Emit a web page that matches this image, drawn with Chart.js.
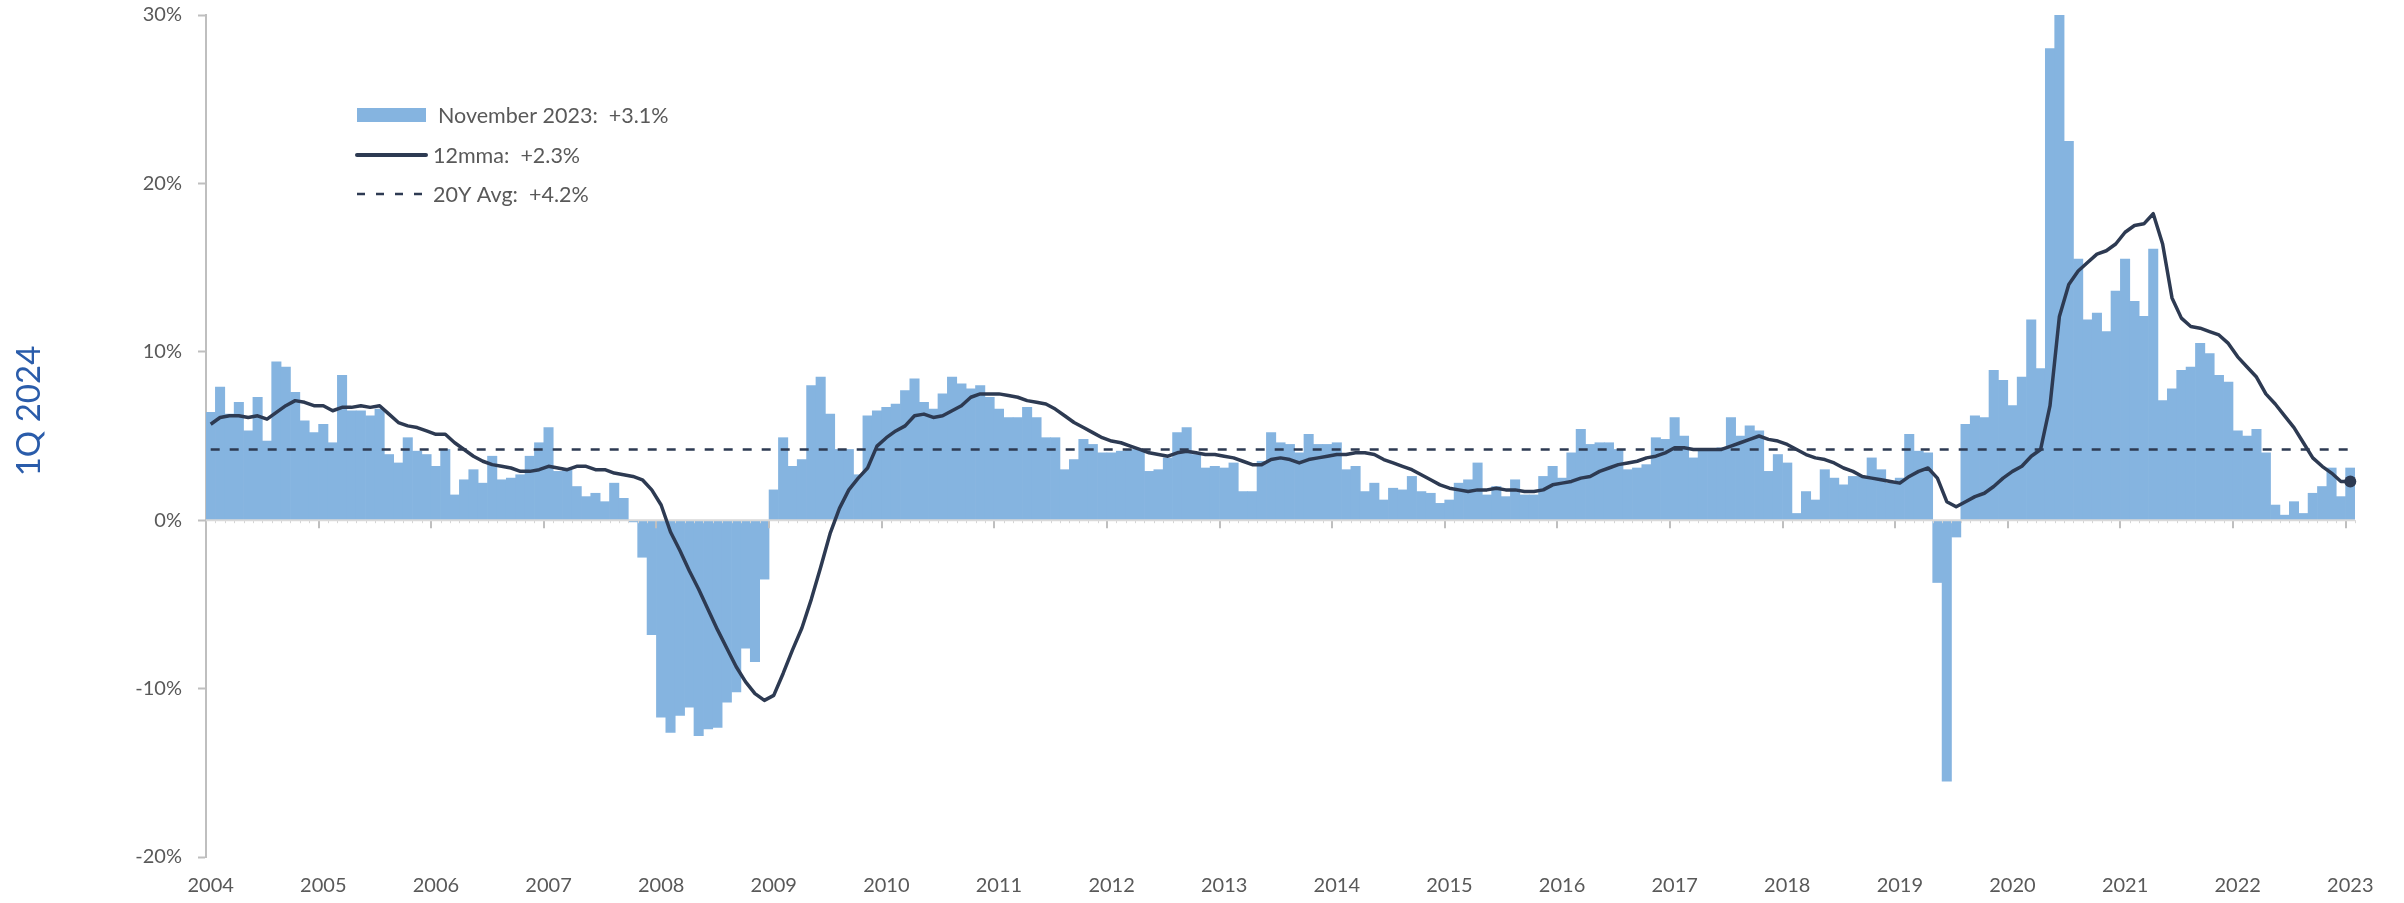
<!DOCTYPE html>
<html>
<head>
<meta charset="utf-8">
<script src="https://cdn.jsdelivr.net/npm/chart.js@4.4.1/dist/chart.umd.min.js"></script>
<style>
  html, body { margin: 0; padding: 0; background: #fff; }
  #wrap { width: 2404px; height: 903px; position: relative; }
</style>
</head>
<body>
<div id="wrap"><canvas id="myChart" width="2404" height="903"></canvas></div>
<script>
// year labels on the axis, one every 12 months
const yearLabels = ['2004','2005','2006','2007','2008','2009','2010','2011','2012','2013',
  '2014','2015','2016','2017','2018','2019','2020','2021','2022','2023'];

// monthly y/y change, %
const monthly = [
  6.4, 7.9, 6.3, 7.0, 5.3, 7.3, 4.7, 9.4, 9.1, 7.6, 5.9, 5.2,
  5.7, 4.6, 8.6, 6.5, 6.5, 6.2, 6.6, 3.9, 3.4, 4.9, 4.1, 3.9,
  3.2, 4.2, 1.5, 2.4, 3.0, 2.2, 3.8, 2.4, 2.5, 2.7, 3.8, 4.6,
  5.5, 2.9, 3.0, 2.0, 1.4, 1.6, 1.1, 2.2, 1.3, -0.1, -2.2, -6.8,
  -11.7, -12.6, -11.6, -11.1, -12.8, -12.4, -12.3, -10.8, -10.2, -7.6, -8.4, -3.5,
  1.8, 4.9, 3.2, 3.6, 8.0, 8.5, 6.3, 4.2, 4.2, 2.7, 6.2, 6.5,
  6.7, 6.9, 7.7, 8.4, 7.0, 6.6, 7.5, 8.5, 8.1, 7.8, 8.0, 7.3,
  6.6, 6.1, 6.1, 6.7, 6.1, 4.9, 4.9, 3.0, 3.6, 4.8, 4.5, 4.0,
  4.0, 4.1, 4.2, 4.2, 2.9, 3.0, 3.7, 5.2, 5.5, 3.9, 3.1, 3.2,
  3.1, 3.4, 1.7, 1.7, 3.5, 5.2, 4.6, 4.5, 4.0, 5.1, 4.5, 4.5,
  4.6, 3.0, 3.2, 1.7, 2.2, 1.2, 1.9, 1.8, 2.6, 1.7, 1.6, 1.0,
  1.2, 2.2, 2.4, 3.4, 1.5, 2.0, 1.4, 2.4, 1.5, 1.5, 2.6, 3.2,
  2.5, 4.0, 5.4, 4.5, 4.6, 4.6, 4.2, 3.0, 3.1, 3.3, 4.9, 4.8,
  6.1, 5.0, 3.7, 4.2, 4.2, 4.3, 6.1, 5.0, 5.6, 5.3, 2.9, 3.9,
  3.4, 0.4, 1.7, 1.2, 3.0, 2.5, 2.1, 2.6, 2.6, 3.7, 3.0, 2.2,
  2.5, 5.1, 4.1, 4.0, -3.7, -15.5, -1.0, 5.7, 6.2, 6.1, 8.9, 8.3,
  6.8, 8.5, 11.9, 9.0, 28.0, 30.0, 22.5, 15.5, 11.9, 12.3, 11.2, 13.6,
  15.5, 13.0, 12.1, 16.1, 7.1, 7.8, 8.9, 9.1, 10.5, 9.9, 8.6, 8.2,
  5.3, 5.0, 5.4, 4.0, 0.9, 0.3, 1.1, 0.4, 1.6, 2.0, 3.1, 1.4,
  3.1
];

// 12-month moving average, %
const mma12 = [
  5.7, 6.1, 6.2, 6.2, 6.1, 6.2, 6.0, 6.4, 6.8, 7.1, 7.0, 6.8,
  6.8, 6.5, 6.7, 6.7, 6.8, 6.7, 6.8, 6.3, 5.8, 5.6, 5.5, 5.3,
  5.1, 5.1, 4.6, 4.2, 3.8, 3.5, 3.3, 3.2, 3.1, 2.9, 2.9, 3.0,
  3.2, 3.1, 3.0, 3.2, 3.2, 3.0, 3.0, 2.8, 2.7, 2.6, 2.4, 1.8,
  0.9, -0.7, -1.8, -3.0, -4.1, -5.3, -6.5, -7.6, -8.7, -9.6, -10.3, -10.7,
  -10.4, -9.1, -7.7, -6.4, -4.7, -2.8, -0.8, 0.7, 1.8, 2.5, 3.1, 4.4,
  4.9, 5.3, 5.6, 6.2, 6.3, 6.1, 6.2, 6.5, 6.8, 7.3, 7.5, 7.5,
  7.5, 7.4, 7.3, 7.1, 7.0, 6.9, 6.6, 6.2, 5.8, 5.5, 5.2, 4.9,
  4.7, 4.6, 4.4, 4.2, 4.0, 3.9, 3.8, 4.0, 4.1, 4.0, 3.9, 3.9,
  3.8, 3.7, 3.5, 3.3, 3.3, 3.6, 3.7, 3.6, 3.4, 3.6, 3.7, 3.8,
  3.9, 3.9, 4.0, 4.0, 3.9, 3.6, 3.4, 3.2, 3.0, 2.7, 2.4, 2.1,
  1.9, 1.8, 1.7, 1.8, 1.8, 1.9, 1.8, 1.8, 1.7, 1.7, 1.8, 2.1,
  2.2, 2.3, 2.5, 2.6, 2.9, 3.1, 3.3, 3.4, 3.5, 3.7, 3.8, 4.0,
  4.3, 4.3, 4.2, 4.2, 4.2, 4.2, 4.4, 4.6, 4.8, 5.0, 4.8, 4.7,
  4.5, 4.2, 3.9, 3.7, 3.6, 3.4, 3.1, 2.9, 2.6, 2.5, 2.4, 2.3,
  2.2, 2.6, 2.9, 3.1, 2.5, 1.1, 0.8, 1.1, 1.4, 1.6, 2.0, 2.5,
  2.9, 3.2, 3.8, 4.2, 6.8, 12.1, 14.0, 14.8, 15.3, 15.8, 16.0, 16.4,
  17.1, 17.5, 17.6, 18.2, 16.4, 13.2, 12.0, 11.5, 11.4, 11.2, 11.0, 10.5,
  9.7, 9.1, 8.5, 7.5, 6.9, 6.2, 5.5, 4.6, 3.7, 3.2, 2.8, 2.3,
  2.3
];

const avg20y = 4.2;
const yTicks = [-20, -10, 0, 10, 20, 30];

const legendItems = [
  { kind: 'box', text: 'November 2023:  +3.1%' },
  { kind: 'line', text: '12mma:  +2.3%' },
  { kind: 'dash', text: '20Y Avg:  +4.2%' }
];
const sideTitle = '1Q 2024';

const BAR = '#85B4E0';
const NAVY = '#2D3A52';
const GREY_TXT = '#595959';
const AXIS = '#BFBFBF';
const FONT = 'Lato, "Open Sans", sans-serif';

const months = monthly.map((v, i) => i % 12 === 0 ? yearLabels[i / 12] : '');
const avgSeries = monthly.map(() => avg20y);

const decorations = {
  id: 'decorations',
  afterDatasetDraw(chart, args) {
    if (args.index !== 0) return;
    const { ctx, chartArea: { left, right }, scales: { x, y } } = chart;
    const y0 = y.getPixelForValue(0);
    const half = (x.getPixelForValue(1) - x.getPixelForValue(0)) / 2;
    ctx.save();
    // minor ticks every month
    ctx.strokeStyle = '#D6D6D6';
    ctx.lineWidth = 1;
    for (let i = 0; i <= monthly.length; i++) {
      const px = Math.round(x.getPixelForValue(i) - half) + 0.5;
      ctx.beginPath(); ctx.moveTo(px, y0); ctx.lineTo(px, y0 + 3); ctx.stroke();
    }
    // year ticks
    ctx.strokeStyle = AXIS;
    ctx.lineWidth = 2;
    for (let i = 0; i <= monthly.length; i += 12) {
      const px = Math.round(x.getPixelForValue(i) - half);
      ctx.beginPath(); ctx.moveTo(px, y0); ctx.lineTo(px, y0 + 8); ctx.stroke();
    }
    // zero line
    ctx.strokeStyle = '#D9D9D9';
    ctx.lineWidth = 2;
    ctx.beginPath(); ctx.moveTo(left, y0); ctx.lineTo(right, y0); ctx.stroke();
    ctx.restore();
  },
  afterDraw(chart) {
    const ctx = chart.ctx;
    ctx.save();
    // legend
    const lx = 357, lw = 69, rows = [115, 155, 194];
    ctx.font = '21.5px ' + FONT;
    ctx.textBaseline = 'middle';
    legendItems.forEach((it, k) => {
      const cy = rows[k];
      if (it.kind === 'box') {
        ctx.fillStyle = BAR;
        ctx.fillRect(lx, cy - 7, lw, 14);
      } else {
        ctx.strokeStyle = NAVY;
        ctx.lineWidth = it.kind === 'line' ? 4 : 2.5;
        ctx.setLineDash(it.kind === 'dash' ? [8, 11] : []);
        ctx.lineCap = it.kind === 'line' ? 'round' : 'butt';
        ctx.beginPath(); ctx.moveTo(lx, cy); ctx.lineTo(lx + lw, cy); ctx.stroke();
        ctx.setLineDash([]);
      }
      ctx.fillStyle = GREY_TXT;
      ctx.fillText(it.text, k === 0 ? 438 : 433, cy + 1);
    });
    // side title
    ctx.translate(29, 411);
    ctx.rotate(-Math.PI / 2);
    ctx.font = '33px ' + FONT;
    ctx.fillStyle = '#2A5CAA';
    ctx.textAlign = 'center';
    ctx.textBaseline = 'middle';
    ctx.fillText(sideTitle, 0, 0);
    ctx.restore();
  }
};

new Chart(document.getElementById('myChart'), {
  type: 'bar',
  plugins: [decorations],
  data: {
    labels: months,
    datasets: [
      {
        type: 'bar',
        data: monthly,
        backgroundColor: BAR,
        borderWidth: 0,
        barPercentage: 1,
        categoryPercentage: 1,
        order: 3
      },
      {
        type: 'line',
        data: avgSeries,
        borderColor: NAVY,
        borderWidth: 2.5,
        borderDash: [9, 10],
        pointRadius: 0,
        order: 2
      },
      {
        type: 'line',
        data: mma12,
        borderColor: NAVY,
        backgroundColor: NAVY,
        borderWidth: 3.5,
        borderJoinStyle: 'round',
        tension: 0,
        pointRadius: ctx => ctx.dataIndex === mma12.length - 1 ? 6 : 0,
        pointBorderWidth: 0,
        order: 1
      }
    ]
  },
  options: {
    responsive: false,
    animation: false,
    devicePixelRatio: 1,
    layout: { padding: { top: 15, right: 49, left: 0, bottom: 0 } },
    plugins: { legend: { display: false }, tooltip: { enabled: false } },
    scales: {
      x: {
        offset: true,
        grid: { display: false, drawTicks: false },
        border: { display: false },
        ticks: {
          autoSkip: false,
          maxRotation: 0,
          padding: 17,
          color: GREY_TXT,
          font: { family: FONT, size: 20 },
          callback: (v, i) => months[i] || null
        },
        afterFit: s => { s.height = 46; }
      },
      y: {
        min: -20,
        max: 30,
        afterBuildTicks: s => { s.ticks = yTicks.map(v => ({ value: v })); },
        grid: { drawOnChartArea: false, tickLength: 8, tickColor: AXIS, tickWidth: 2, color: AXIS },
        border: { display: true, color: AXIS, width: 2 },
        ticks: {
          padding: 16,
          color: GREY_TXT,
          font: { family: FONT, size: 20 },
          callback: v => v + '%'
        },
        afterFit: s => { s.width = 206; s.paddingTop = 0; s.paddingBottom = 0; }
      }
    }
  }
});
</script>
</body>
</html>
